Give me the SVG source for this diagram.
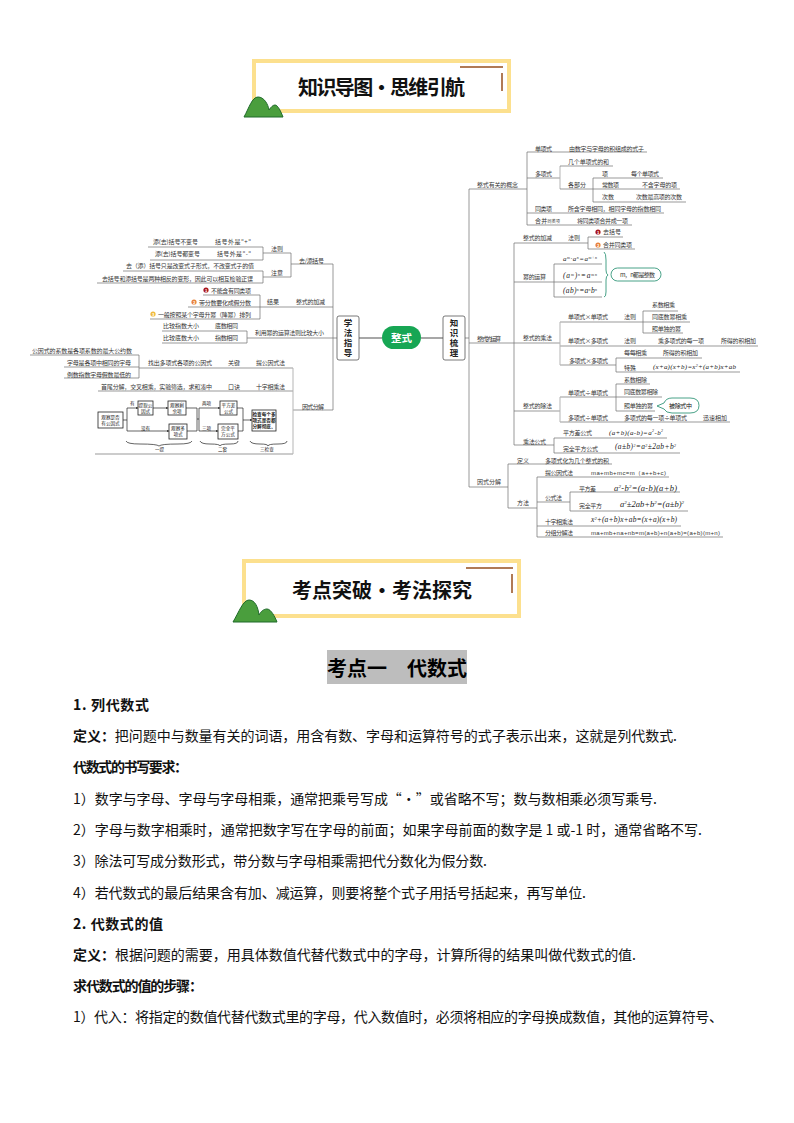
<svg xmlns="http://www.w3.org/2000/svg" width="794" height="1123" viewBox="0 0 794 1123">
<style>
text{font-family:"Noto Sans CJK SC","Liberation Sans",sans-serif;fill:#333}
.t{font-size:6px}
.f{font-size:4.6px;fill:#222}
.b{font-size:14px;fill:#111}
.h{font-weight:700}
.m{font-family:"Liberation Serif",serif;font-style:italic;fill:#222}
.banner{fill:#fff;stroke:#fce08e;stroke-width:4}
.title{font-size:20px;font-weight:700;fill:#111}
.brown{stroke:#b07a55;stroke-width:2;fill:none}
.hill{fill:#4a9e3d;stroke:#1f6a2a;stroke-width:1}
.c line,.c path{stroke:#6e6e6e;stroke-width:.7;fill:none}
.c .g{stroke:#b5b5b5;stroke-width:1}
.c .s{stroke:#8a8a8a;stroke-width:1.5}
.v{font-size:8.5px;font-weight:700;fill:#222;writing-mode:vertical-rl;letter-spacing:1.2px}
.n{fill:#fff;stroke:#555;stroke-width:.8}
.fb{fill:#fff;stroke:#222;stroke-width:.8}
.fl line,.fl path{stroke:#222;stroke-width:.7;fill:none}
.teal{fill:#fff;stroke:#1a8a6a;stroke-width:.8}
.d{font-size:4px;fill:#fff;font-weight:700}
</style>
<defs>
<marker id="a" markerWidth="4" markerHeight="4" refX="3.5" refY="2" orient="auto"><path d="M0,0.3L3.5,2L0,3.7z" fill="#222"/></marker>
</defs>

<g id="banner1">
<rect class="banner" x="254" y="61" width="255" height="50"/>
<path class="brown" d="M460,67H503M502,73V91"/>
<path class="hill" d="M244,117C249,108 252,97 258,97C264,97 268,104 269,110C271,107 273,105 275,105C278,105 281,112 283,117Z"/>
<text class="title" x="298" y="95" textLength="167">知识导图·思维引航</text>
</g>

<g id="connectors" class="c">
<path d="M148,247H263M150,260H263M263,247V260M263,253H291M123,271H263M97,283H263M263,271V283M263,277H291M291,253V277M291,264H333"/>
<path d="M203,295H260M188,307H333M150,319H260M260,295V319"/>
<path d="M162,331H247M162,343H247M247,331V343M247,338H337"/>
<path d="M30,355H139M64,367H139M64,378H139M139,355V378M139,368H293M98,391H293M95,454H293M293,410H333"/>
<path class="g" d="M293,368V454"/>
<path d="M333,264V410"/>
<line class="s" x1="359" y1="338" x2="382" y2="338"/>
<line class="s" x1="421" y1="338" x2="443" y2="338"/>
<path d="M465,338H469M469,189V487M469,189H527M469,343H514M469,487H508"/>
<path d="M527,152V225M527,152H647M527,178H560M527,213H664M527,225H632"/>
<path class="g" d="M560,166V189"/>
<path d="M560,166H613M560,189H593M593,178V202M593,178H663M593,189H680M593,202H686"/>
<path d="M514,243V445M514,243H588M588,237V249M588,237H623M588,249H635"/>
<path d="M514,282H554M554,264V297M554,264H602M554,282H602M554,297H602"/>
<path d="M514,343H560M643,311V333M643,311H678M560,322H643M643,322H690M643,333H683M560,346H758M560,365H616M616,358V372M616,358H702M616,372H740"/>
<path class="g" d="M560,322V365"/>
<path d="M514,411H560M560,397H616M616,384V411M616,384H650M616,397H662M616,411H655M560,422H730"/>
<path class="g" d="M560,397V422"/>
<path d="M514,445H554M554,438V453M554,438H667M554,453H680"/>
<path d="M508,464V508M508,464H612M508,508H537M537,477V537M537,477H669M537,502H570M570,492V511M570,492H680M570,511H688M537,526H681M537,537H723"/>
</g>

<g id="left-rules">
<text class="t" x="153" y="244" textLength="45">添(去)括号不变号</text>
<text class="t" x="215" y="244" textLength="36">括号外是"+"</text>
<text class="t" x="155" y="256" textLength="45">添(去)括号都变号</text>
<text class="t" x="217" y="256" textLength="34">括号外是"-"</text>
<text class="t" x="271" y="251">法则</text>
<text class="t" x="271" y="274.5">注意</text>
<text class="t" x="299" y="263" textLength="25">去/添括号</text>
<text class="t" x="126" y="268" textLength="128">去（添）括号只是改变式子形式，不改变式子的值</text>
<text class="t" x="102" y="281" textLength="151">去括号和添括号是两种相反的变形，因此可以相互检验正误</text>
</g>
<g id="left-result">
<circle cx="206" cy="290" r="2.6" fill="#a8151c"/><text class="d" x="204.9" y="291.5">1</text>
<circle cx="194" cy="302" r="2.6" fill="#e8823a"/><text class="d" x="192.9" y="303.5">2</text>
<circle cx="153" cy="314" r="2.6" fill="#f0b93a"/><text class="d" x="151.9" y="315.5">3</text>
<text class="t" x="211" y="293" textLength="40">不能含有同类项</text>
<text class="t" x="199" y="304.5" textLength="52">带分数要化成假分数</text>
<text class="t" x="158" y="316.5" textLength="93">一般按照某个字母升幂（降幂）排列</text>
<text class="t" x="267" y="304">结果</text>
<text class="t" x="296" y="304" textLength="29">整式的加减</text>
</g>
<g id="left-compare">
<text class="t" x="163" y="328" textLength="36">比较指数大小</text>
<text class="t" x="215" y="328" textLength="23">底数相同</text>
<text class="t" x="163" y="340" textLength="36">比较底数大小</text>
<text class="t" x="215" y="340" textLength="23">指数相同</text>
<text class="t" x="255" y="335" textLength="69">利用幂的运算法则比较大小</text>
</g>
<g id="left-factor">
<text class="t" x="32" y="352.5" textLength="100">公因式的系数是各项系数的最大公约数</text>
<text class="t" x="67" y="365" textLength="64">字母是各项中相同的字母</text>
<text class="t" x="67" y="377" textLength="64">例数指数字母假数最低的</text>
<text class="t" x="148" y="365" textLength="64">找出多项式各项的公因式</text>
<text class="t" x="228" y="365">关键</text>
<text class="t" x="256" y="365" textLength="29">提公因式法</text>
<text class="t" x="101" y="389" textLength="111">首尾分解，交叉相乘，实验筛选，求和凑中</text>
<text class="t" x="228" y="389">口诀</text>
<text class="t" x="256" y="389" textLength="29">十字相乘法</text>
<text class="t" x="302" y="409" textLength="22">因式分解</text>
</g>

<g id="flow-connectors" class="fl">
<path d="M123,420H127V408H138" marker-end="url(#a)"/>
<path d="M127,420V431H169" marker-end="url(#a)"/>
<path d="M153,408H168" marker-end="url(#a)"/>
<path d="M186,408H197V431H187M197,419H199M199,408V431"/>
<path d="M199,408H220" marker-end="url(#a)"/>
<path d="M199,431H218" marker-end="url(#a)"/>
<path d="M237,408H243V431H238"/>
<path d="M243,420H252" marker-end="url(#a)"/>
<path d="M126,441Q127,444 140,444Q157,444 159,446Q161,444 178,444Q191,444 192,441"/>
<path d="M200,441Q201,444 210,444Q220,444 220,446Q220,444 230,444Q238,444 238,441"/>
<path d="M250,441Q251,444 260,444Q268,444 268,446Q268,444 278,444Q287,444 287,441"/>
</g>
<g id="flow-start"><rect class="fb" x="98" y="412" width="25" height="16"/><text class="f" x="110.500" y="419" text-anchor="middle">观察是否</text><text class="f" x="110.500" y="425" text-anchor="middle">有公因式</text></g>
<g id="flow-extract"><rect class="fb" x="138" y="401" width="15" height="14"/><text class="f" x="145.500" y="407" text-anchor="middle">提取公</text><text class="f" x="145.500" y="413" text-anchor="middle">因式</text></g>
<g id="flow-rest"><rect class="fb" x="168" y="401" width="18" height="14"/><text class="f" x="177" y="407" text-anchor="middle">观察剩</text><text class="f" x="177" y="413" text-anchor="middle">余项</text></g>
<g id="flow-poly"><rect class="fb" x="169" y="424" width="18" height="15"/><text class="f" x="178" y="430" text-anchor="middle">观察多</text><text class="f" x="178" y="436" text-anchor="middle">项式</text></g>
<g id="flow-diff"><rect class="fb" x="220" y="401" width="17" height="14"/><text class="f" x="228.500" y="407" text-anchor="middle">平方差</text><text class="f" x="228.500" y="413" text-anchor="middle">公式</text></g>
<g id="flow-square"><rect class="fb" x="218" y="424" width="20" height="15"/><text class="f" x="228" y="430" text-anchor="middle">完全平</text><text class="f" x="228" y="436" text-anchor="middle">方公式</text></g>
<g id="flow-check"><rect class="fb" x="252" y="410" width="24" height="21" stroke-width="1.2"/><text class="f" x="264" y="416" text-anchor="middle" font-weight="700">检查每个多</text><text class="f" x="264" y="422" text-anchor="middle" font-weight="700">项式是否都</text><text class="f" x="264" y="428" text-anchor="middle" font-weight="700">分解彻底。</text></g>
<g id="flow-labels">
<text class="f" x="130" y="405">有</text><text class="f" x="141" y="430">没有</text><text class="f" x="202" y="405">两项</text><text class="f" x="202" y="430">三项</text>
<text class="f" x="155" y="451">一提</text><text class="f" x="218" y="451">二套</text><text class="f" x="260" y="451">三检查</text>
</g>

<g id="node-method"><rect class="n" x="337" y="316" width="22" height="44" rx="2"/>
<text class="v" x="348" y="319">学法指导</text></g>
<g id="node-root"><rect x="382" y="326" width="39" height="23" rx="11.500" fill="#17a654"/><text x="401.500" y="342" text-anchor="middle" font-size="10.500" font-weight="700" style="fill:#fff">整式</text></g>
<g id="node-knowledge"><rect class="n" x="443" y="316" width="22" height="44" rx="2"/>
<text class="v" x="454" y="319">知识梳理</text></g>

<g id="concepts">
<text class="t" x="477" y="187" textLength="41">整式有关的概念</text>
<text class="t" x="535" y="151" textLength="17">单项式</text>
<text class="t" x="569" y="151" textLength="75">由数字与字母的积组成的式子</text>
<text class="t" x="535" y="175.500" textLength="17">多项式</text>
<text class="t" x="568" y="163.500" textLength="41">几个单项式的和</text>
<text class="t" x="568" y="187" textLength="18">各部分</text>
<text class="t" x="602" y="175.500">项</text>
<text class="t" x="631" y="175.500" textLength="28">每个单项式</text>
<text class="t" x="602" y="187" textLength="17">常数项</text>
<text class="t" x="642" y="187" textLength="35">不含字母的项</text>
<text class="t" x="602" y="199">次数</text>
<text class="t" x="636" y="199" textLength="46">次数最高项的次数</text>
<text class="t" x="535" y="211" textLength="17">同类项</text>
<text class="t" x="568" y="211" textLength="93">所含字母相同，相同字母的指数相同</text>
<text class="t" x="535" y="223" textLength="25">合并<tspan font-size="4">同类项</tspan></text>
<text class="t" x="577" y="223" textLength="51">将同类项合并成一项</text>
</g>

<g id="operations">
<text class="t" x="477" y="341" textLength="24">整式的运算</text>
<text class="t" x="523" y="240" textLength="29">整式的加减</text>
<text class="t" x="568" y="240">法则</text>
<circle cx="598" cy="232" r="2.6" fill="#a8151c"/><text class="d" x="596.900" y="233.500">1</text>
<circle cx="598" cy="245" r="2.6" fill="#e8823a"/><text class="d" x="596.900" y="246.500">2</text>
<text class="t" x="603" y="234" textLength="18">去括号</text>
<text class="t" x="603" y="247" textLength="29">合并同类项</text>
<text class="t" x="523" y="279" textLength="23">幂的运算</text>
<text class="m" x="563" y="261" font-size="7" textLength="34">a<tspan font-size="4" dy="-2.500">m</tspan><tspan dy="2.500">·a</tspan><tspan font-size="4" dy="-2.500">n</tspan><tspan dy="2.500">=a</tspan><tspan font-size="4" dy="-2.500">m+n</tspan></text>
<text class="m" x="563" y="278" font-size="7.500" textLength="34">(a<tspan font-size="4" dy="-2.500">m</tspan><tspan dy="2.500">)</tspan><tspan font-size="4" dy="-2.500">n</tspan><tspan dy="2.500">=a</tspan><tspan font-size="4" dy="-2.500">mn</tspan></text>
<text class="m" x="563" y="293" font-size="7.500" textLength="34">(ab)<tspan font-size="4" dy="-2.500">n</tspan><tspan dy="2.500">=a</tspan><tspan font-size="4" dy="-2.500">n</tspan><tspan dy="2.500">b</tspan><tspan font-size="4" dy="-2.500">n</tspan></text>
</g>
<g id="note-mn">
<path d="M604,252Q606,253 606,260V270Q606,274 608,275Q606,276 606,280V292Q606,297 604,297" fill="none" stroke="#1a8a6a" stroke-width=".8"/>
<rect class="teal" x="611" y="268" width="50" height="13" rx="6.500"/>
<text class="t" x="620" y="277" textLength="35">m，n都是整数</text>
</g>
<g id="multiply">
<text class="t" x="523" y="340" textLength="29">整式的乘法</text>
<text class="t" x="568" y="319" textLength="40">单项式×单项式</text>
<text class="t" x="624" y="319">法则</text>
<text class="t" x="652" y="307" textLength="23">系数相乘</text>
<text class="t" x="652" y="319" textLength="35">同底数幂相乘</text>
<text class="t" x="652" y="331" textLength="29">照单独的幂</text>
<text class="t" x="568" y="343" textLength="40">单项式×多项式</text>
<text class="t" x="624" y="343">法则</text>
<text class="t" x="658" y="343" textLength="46">乘多项式的每一项</text>
<text class="t" x="721" y="343" textLength="35">所得的积相加</text>
<text class="t" x="569" y="363" textLength="39">多项式×多项式</text>
<text class="t" x="624" y="355" textLength="23">每每相乘</text>
<text class="t" x="663" y="355" textLength="35">所得的积相加</text>
<text class="t" x="624" y="370">特殊</text>
<text class="m" x="653" y="369" font-size="7" textLength="83">(x+a)(x+b)=x<tspan font-size="4" dy="-2.500">2</tspan><tspan dy="2.500">+(a+b)x+ab</tspan></text>
</g>
<g id="divide">
<text class="t" x="523" y="408" textLength="29">整式的除法</text>
<text class="t" x="568" y="395" textLength="40">单项式÷单项式</text>
<text class="t" x="624" y="382" textLength="23">系数相除</text>
<text class="t" x="624" y="394" textLength="34">同底数幂相除</text>
<text class="t" x="624" y="408" textLength="29">照单独的幂</text>
<text class="t" x="568" y="420" textLength="40">多项式÷单项式</text>
<text class="t" x="624" y="420" textLength="63">多项式的每一项÷单项式</text>
<text class="t" x="703" y="420" textLength="24">迅速相加</text>
</g>
<g id="note-divisor">
<path class="teal" d="M657,406L664,403Q666,398 672,398H690Q699,398 699,405.500Q699,413 690,413H672Q666,413 664,409Z"/>
<text class="t" x="669" y="408" textLength="23" style="fill:#111">被除式中</text>
</g>
<g id="formula">
<text class="t" x="523" y="444" textLength="23">乘法公式</text>
<text class="t" x="563" y="435" textLength="29">平方差公式</text>
<text class="m" x="609" y="434.500" font-size="7" textLength="54">(a+b)(a-b)=a<tspan font-size="4" dy="-2.500">2</tspan><tspan dy="2.500">-b</tspan><tspan font-size="4" dy="-2.500">2</tspan></text>
<text class="t" x="563" y="451" textLength="35">完全平方公式</text>
<text class="m" x="615" y="449" font-size="7.500" textLength="61">(a±b)<tspan font-size="4" dy="-2.500">2</tspan><tspan dy="2.500">=a</tspan><tspan font-size="4" dy="-2.500">2</tspan><tspan dy="2.500">±2ab+b</tspan><tspan font-size="4" dy="-2.500">2</tspan></text>
</g>
<g id="factor">
<text class="t" x="477" y="484" textLength="24">因式分解</text>
<text class="t" x="517" y="463">定义</text>
<text class="t" x="545" y="463" textLength="64">多项式化为几个整式的积</text>
<text class="t" x="517" y="505">方法</text>
<text class="t" x="545" y="475" textLength="28">提公因式法</text>
<text class="t" x="591" y="475" textLength="75" style="font-family:'Liberation Sans',sans-serif">ma+mb+mc=m（a++b+c)</text>
<text class="t" x="545" y="500" textLength="17">公式法</text>
<text class="t" x="579" y="491" textLength="17">平方差</text>
<text class="m" x="614" y="491" font-size="8.500" textLength="63">a<tspan font-size="5" dy="-3">2</tspan><tspan dy="3">-b</tspan><tspan font-size="5" dy="-3">2</tspan><tspan dy="3">=(a-b)(a+b)</tspan></text>
<text class="t" x="579" y="508" textLength="23">完全平方</text>
<text class="m" x="620" y="507" font-size="8.500" textLength="64">a<tspan font-size="5" dy="-3">2</tspan><tspan dy="3">±2ab+b</tspan><tspan font-size="5" dy="-3">2</tspan><tspan dy="3">=(a±b)</tspan><tspan font-size="5" dy="-3">2</tspan></text>
<text class="t" x="545" y="524" textLength="28">十字相乘法</text>
<text class="m" x="591" y="522" font-size="7.500" textLength="86">x<tspan font-size="4.500" dy="-2.500">2</tspan><tspan dy="2.500">+(a+b)x+ab=(x+a)(x+b)</tspan></text>
<text class="t" x="545" y="535" textLength="28">分组分解法</text>
<text class="t" x="591" y="535" textLength="129" style="font-family:'Liberation Sans',sans-serif">ma+mb+na+nb=m(a+b)+n(a+b)=(a+b)(m+n)</text>
</g>

<g id="banner2">
<rect class="banner" x="244" y="561" width="275" height="55"/>
<path class="brown" d="M466,568H513M512,574V593"/>
<path class="hill" d="M233,622C239,612 243,600 249,600C255,600 258,607 259,615C261,611 264,609 267,609C271,609 275,617 277,622Z"/>
<text class="title" x="292" y="598" textLength="180">考点突破·考法探究</text>
</g>

<g id="section-title">
<rect x="327" y="650" width="140" height="34" fill="#bdbdbd"/>
<text x="327" y="676" font-size="20" font-weight="700" style="fill:#000" xml:space="preserve" textLength="140">考点一　代数式</text>
</g>

<g id="body">
<text class="b h" x="73" y="710" textLength="76">1. 列代数式</text>
<text class="b" x="73" y="741" textLength="604"><tspan class="h">定义：</tspan>把问题中与数量有关的词语，用含有数、字母和运算符号的式子表示出来，这就是列代数式.</text>
<text class="b h" x="73" y="772" textLength="115">代数式的书写要求：</text>
<text class="b" x="73" y="804" textLength="584">1）数字与字母、字母与字母相乘，通常把乘号写成“·”或省略不写；数与数相乘必须写乘号.</text>
<text class="b" x="73" y="835" textLength="629">2）字母与数字相乘时，通常把数字写在字母的前面；如果字母前面的数字是 1 或-1 时，通常省略不写.</text>
<text class="b" x="73" y="866" textLength="414">3）除法可写成分数形式，带分数与字母相乘需把代分数化为假分数.</text>
<text class="b" x="73" y="898" textLength="513">4）若代数式的最后结果含有加、减运算，则要将整个式子用括号括起来，再写单位.</text>
<text class="b h" x="73" y="929" textLength="90">2. 代数式的值</text>
<text class="b" x="73" y="960" textLength="563"><tspan class="h">定义：</tspan>根据问题的需要，用具体数值代替代数式中的字母，计算所得的结果叫做代数式的值.</text>
<text class="b h" x="73" y="991" textLength="130">求代数式的值的步骤：</text>
<text class="b" x="73" y="1022" textLength="650">1）代入：将指定的数值代替代数式里的字母，代入数值时，必须将相应的字母换成数值，其他的运算符号、</text>
</g>
</svg>
